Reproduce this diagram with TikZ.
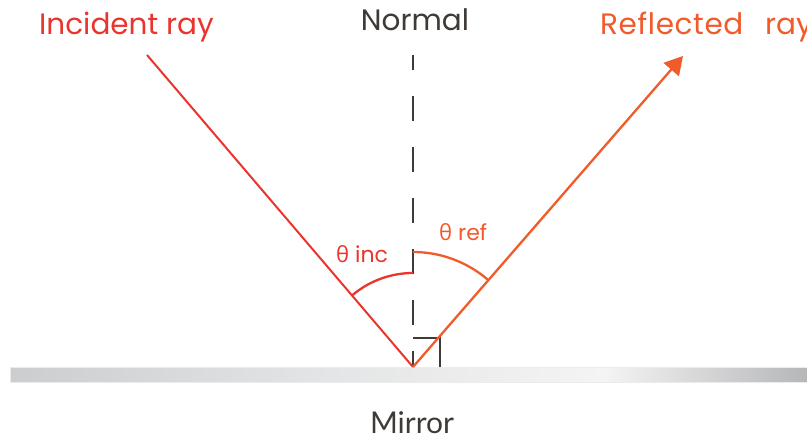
\documentclass[tikz,border=0pt]{standalone}
\usepackage{fontspec}
\newfontfamily\geo{Poppins}
\newfontfamily\thetafont{Open Sans}
\newfontfamily\mirrorfont{Lato}
\usetikzlibrary{arrows.meta}
\definecolor{incred}{HTML}{E8352D}
\definecolor{reforange}{HTML}{F15A2B}
\definecolor{darkgr}{HTML}{3F3A36}
\definecolor{mL}{HTML}{CCCDCF}
\definecolor{mM}{HTML}{E4E5E6}
\definecolor{mH}{HTML}{F4F4F4}
\definecolor{mR}{HTML}{B4B5B7}
\pgfdeclarehorizontalshading{mirrorshade}{100bp}{color(0bp)=(mL); color(25bp)=(mL); color(45bp)=(mM); color(62bp)=(mH); color(75bp)=(mR); color(100bp)=(mR)}
\tikzset{
  lbl/.style={inner sep=0pt, font=\geo\fontsize{29.5}{30}\selectfont},
  anglbl/.style={inner sep=0pt, font=\geo\fontsize{22}{23}\selectfont},
  ray/.style={line width=2pt},
  anglearc/.style={line width=2.3pt},
  normalline/.style={darkgr, line width=2pt, dash pattern=on 25pt off 26pt, dash phase=10pt},
}
\begin{document}
\begin{tikzpicture}[x=1pt,y=1pt]
\useasboundingbox (0,0) rectangle (807,440);
% mirror
\shade[shading=mirrorshade, draw=white!92!black, line width=0.8pt] (10,58) rectangle (812,73);
\coordinate (V) at (413,73);
\coordinate (A) at (147,385);
\coordinate (B) at (683,384);
\coordinate (N) at (413,385);
\coordinate (RA) at (413,102);
\coordinate (RB) at (440,102);
\coordinate (RC) at (440,73);
% normal
\draw[normalline] (N) -- (V);
% right angle
\draw[darkgr, line width=2pt] (RA) -- (RB) -- (RC);
% rays
\draw[ray, incred] (A) -- (V);
\draw[ray, reforange, line width=2.3pt, -{Triangle[length=18pt,width=20pt]}] (V) -- (B);
% angle arcs
\draw[anglearc, incred] (V) ++(90:94) arc (90:130.45:94);
\draw[anglearc, reforange] (V) ++(90:115) arc (90:49.13:115);
% labels
\node[lbl, incred, anchor=base west] (inc) at (39,405) {Incident ray};
\node[lbl, darkgr, anchor=base] (nor) at (415,409) {Normal};
\node[lbl, reforange, anchor=base west] (refl) at (600,405) {R\kern0.6pt e\kern0.6pt f\kern0.6pt l\kern0.6pt e\kern0.6pt c\kern0.6pt t\kern0.6pt e\kern0.6pt d\hspace{14pt} ray};
\node[anglbl, incred, anchor=base west] (tinc) at (336,178) {{\thetafont θ} inc};
\node[anglbl, reforange, anchor=base west] (tref) at (439,200) {{\thetafont θ} ref};
\node[inner sep=0pt, darkgr, anchor=base, font=\mirrorfont\fontsize{30}{31}\selectfont] (mir) at (412,7) {Mirror};
\end{tikzpicture}
\end{document}
